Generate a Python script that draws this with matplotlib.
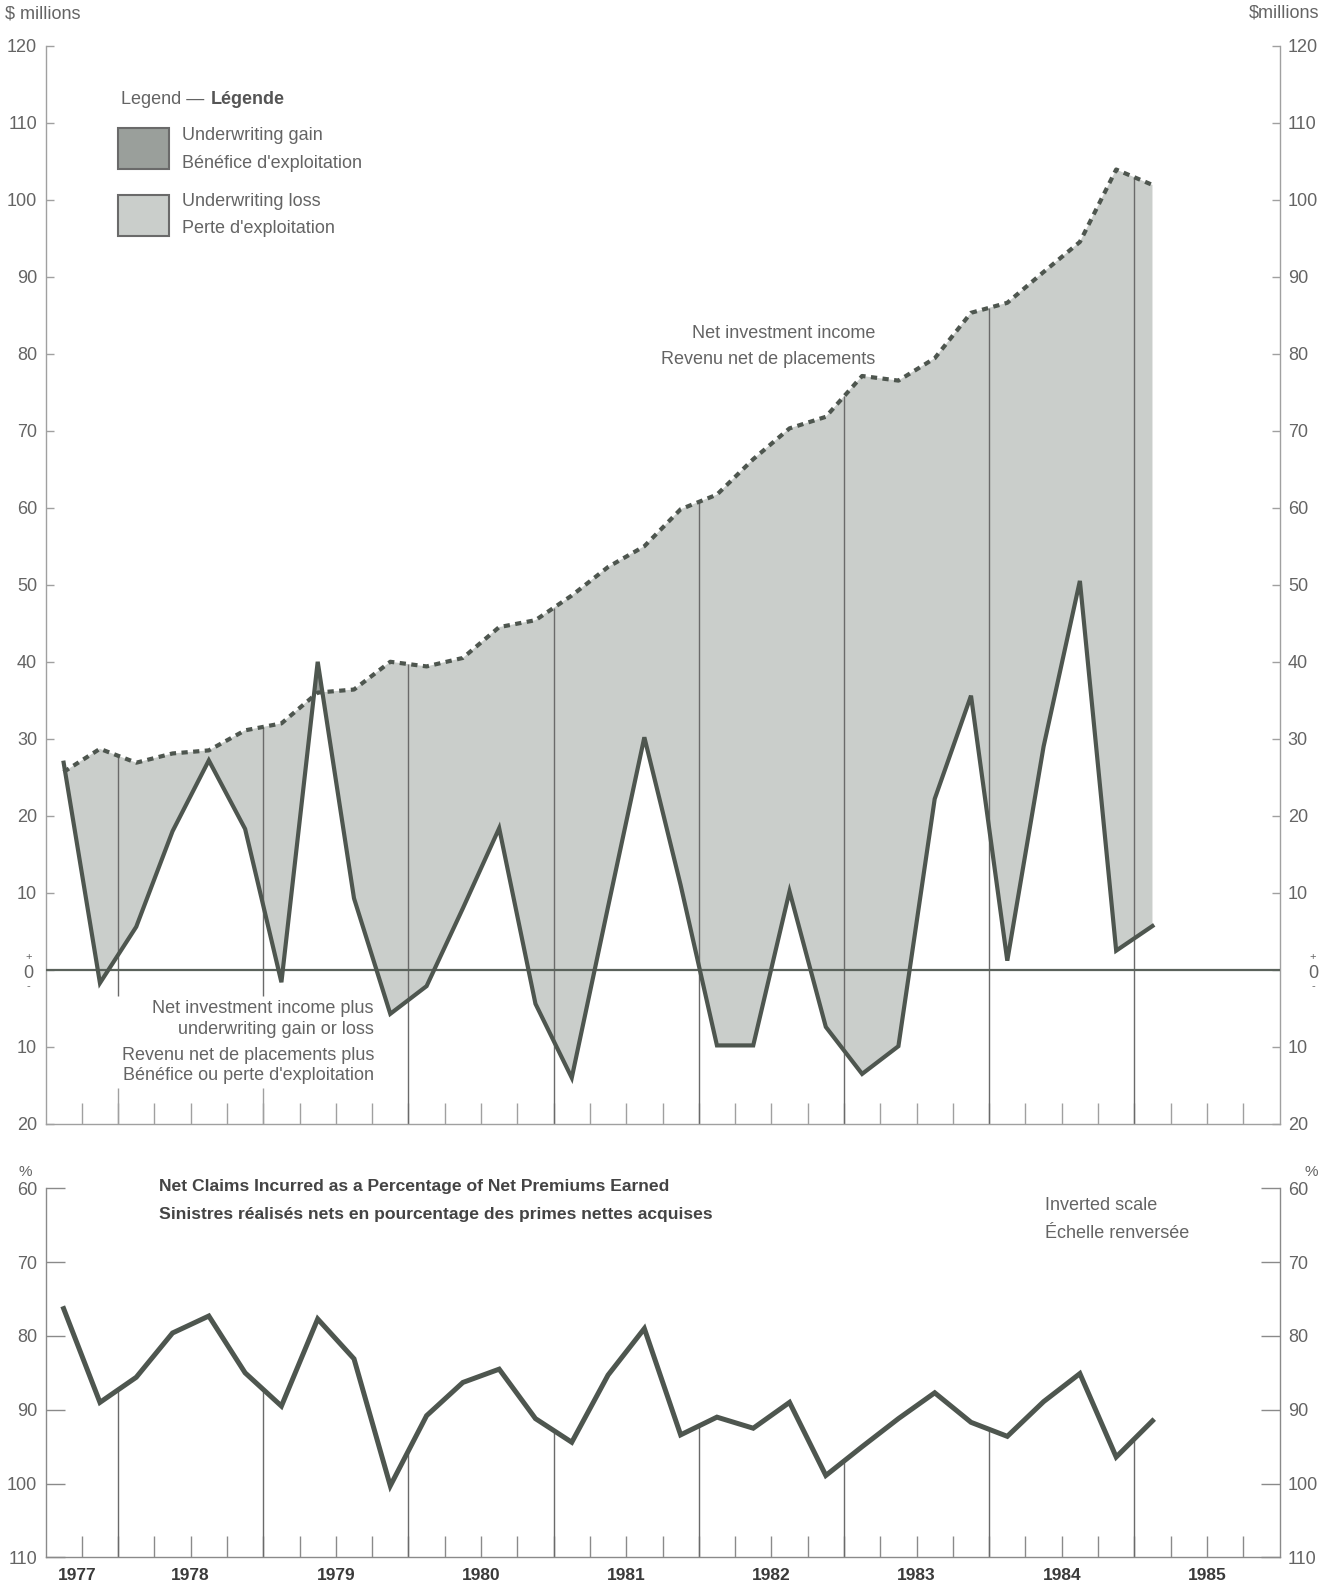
import numpy as np
import matplotlib.pyplot as plt
from matplotlib.patches import Rectangle

plt.rcParams['font.family'] = ['Liberation Sans', 'DejaVu Sans']

# quarterly data, 1977Q3 .. 1985Q1
periods = ['1977Q3', '1977Q4',
           '1978Q1', '1978Q2', '1978Q3', '1978Q4',
           '1979Q1', '1979Q2', '1979Q3', '1979Q4',
           '1980Q1', '1980Q2', '1980Q3', '1980Q4',
           '1981Q1', '1981Q2', '1981Q3', '1981Q4',
           '1982Q1', '1982Q2', '1982Q3', '1982Q4',
           '1983Q1', '1983Q2', '1983Q3', '1983Q4',
           '1984Q1', '1984Q2', '1984Q3', '1984Q4',
           '1985Q1']

# $ millions
net_invest = [25.7, 28.7, 26.9, 28.1, 28.5, 31.1, 32.0, 36.0, 36.4, 40.0,
              39.4, 40.5, 44.5, 45.4, 48.6, 52.3, 55.0, 59.8, 61.7, 66.3,
              70.3, 71.8, 77.1, 76.5, 79.4, 85.3, 86.6, 90.6, 94.5, 103.9,
              101.9]
total_income = [26.9, -1.7, 5.6, 18.0, 27.2, 18.3, -1.6, 40.0, 9.3, -5.7,
                -2.1, 8.0, 18.4, -4.4, -14.0, 8.2, 30.2, 11.0, -9.8, -9.8,
                10.2, -7.4, -13.5, -9.9, 22.2, 35.6, 1.2, 29.0, 50.5, 2.5,
                5.7]

# net claims incurred, % of net premiums earned
claims_pct = [76.3, 89.0, 85.6, 79.6, 77.3, 85.0, 89.5, 77.7, 83.1, 100.3,
              90.8, 86.3, 84.5, 91.2, 94.4, 85.3, 79.0, 93.4, 91.0, 92.5,
              89.0, 98.9, 95.0, 91.2, 87.7, 91.7, 93.6, 88.9, 85.1, 96.4,
              91.5]

year_labels = ['1977', '1978', '1979', '1980', '1981', '1982', '1983', '1984', '1985']
year_bounds = [1978, 1979, 1980, 1981, 1982, 1983, 1984, 1985]

x = np.array([int(p[:4]) + (int(p[-1]) - 1) * 0.25 + 0.125 for p in periods])
nii = np.array(net_invest)
tot = np.array(total_income)
clm = np.array(claims_pct)

LINE = '#4e564f'
FILL = '#cacecb'
GAIN = '#9a9f9b'
AXC = '#a0a0a0'
TXT = '#646464'
FS = 13

W, H = 1335, 1586
fig = plt.figure(figsize=(W / 100, H / 100), dpi=100)


def ftext(px, py, s, **kw):
    kw.setdefault('color', TXT)
    kw.setdefault('fontsize', FS)
    kw.setdefault('va', 'center')
    fig.text(px / W, 1 - py / H, s, **kw)


qticks = np.arange(1977.75, 1986.0, 0.25)

# ---------------- top panel ----------------
ax1 = fig.add_axes([45.5 / W, 1 - 1124 / H, 1234 / W, 1078.5 / H])
ax1.set_xlim(1977.5, 1986.0)
ax1.set_ylim(-20, 120)

ax1.fill_between(x, tot, nii, where=tot <= nii, interpolate=True,
                 color=FILL, lw=0, zorder=1)
ax1.fill_between(x, tot, nii, where=tot > nii, interpolate=True,
                 color=GAIN, lw=0, zorder=1)

for i, yb in enumerate(year_bounds):
    top = np.interp(yb, x, nii)
    if i < 2:
        ax1.vlines(yb, -3.4, top, color='#6a6a6a', lw=1.0, zorder=2)
        ax1.vlines(yb, -20, -15.3, color=AXC, lw=1.0, zorder=2)
    else:
        ax1.vlines(yb, -20, top, color='#6a6a6a', lw=1.0, zorder=2)

ax1.axhline(0, color='#5a625b', lw=1.6, zorder=3)
ax1.plot(x, nii, color=LINE, lw=3, ls=(0, (1.5, 1.3)), zorder=4)
ax1.plot(x, tot, color=LINE, lw=3, zorder=5, solid_joinstyle='miter')

ax1.spines['top'].set_visible(False)
for s in ['left', 'right', 'bottom']:
    ax1.spines[s].set_color(AXC)
    ax1.spines[s].set_linewidth(1.0)

yt = list(range(-20, 121, 10))
ax1.set_yticks(yt)
ax1.set_yticklabels(['' if v == 0 else str(abs(v)) for v in yt])
ax1.tick_params(axis='y', direction='in', length=6, width=1, color=AXC,
                left=True, right=True, labelleft=True, labelright=True,
                labelsize=FS, labelcolor=TXT, pad=6)
ax1.set_xticks(qticks)
ax1.tick_params(axis='x', direction='in', length=15, width=1, color=AXC,
                labelbottom=False)

# zero label with + / - marks
for px in (28.5, 1313):
    ftext(px, 973, '0', ha='center')
    ftext(px, 957, '+', fontsize=8, ha='center')
    ftext(px, 986, '-', fontsize=8, ha='center')

ftext(5, 14, '$ millions', ha='left')
ftext(1319, 13, '$millions', ha='right')

# legend
ftext(121, 99, 'Legend \u2014 ', ha='left')
ftext(211, 99, 'Légende', ha='left', fontweight='bold', color='#555555')
fig.patches.append(Rectangle((118 / W, 1 - 169 / H), 51 / W, 41 / H,
                             transform=fig.transFigure, facecolor=GAIN,
                             edgecolor='#6a6a6a', lw=1.5))
fig.patches.append(Rectangle((118 / W, 1 - 236 / H), 51 / W, 41 / H,
                             transform=fig.transFigure, facecolor=FILL,
                             edgecolor='#6a6a6a', lw=1.5))
ftext(182, 135.5, 'Underwriting gain', ha='left')
ftext(182, 163, "Bénéfice d'exploitation", ha='left')
ftext(182, 201, 'Underwriting loss', ha='left')
ftext(182, 228.5, "Perte d'exploitation", ha='left')

ftext(875, 333, 'Net investment income', ha='right')
ftext(875, 360, 'Revenu net de placements', ha='right')

ftext(374, 1008, 'Net investment income plus', ha='right')
ftext(374, 1029, 'underwriting gain or loss', ha='right')
ftext(374, 1056, 'Revenu net de placements plus', ha='right')
ftext(374, 1076, "Bénéfice ou perte d'exploitation", ha='right')

# ---------------- bottom panel ----------------
ax2 = fig.add_axes([45.5 / W, 1 - 1557.4 / H, 1234 / W, 369.1 / H])
ax2.set_xlim(1977.5, 1986.0)
ax2.set_ylim(110, 60)

for yb in year_bounds:
    v = np.interp(yb, x, clm)
    ax2.vlines(yb, 110, v, color='#6a6a6a', lw=1.0, zorder=2)
ax2.plot(x, clm, color=LINE, lw=3.6, zorder=4, solid_joinstyle='miter')

ax2.spines['top'].set_visible(False)
for s in ['left', 'right', 'bottom']:
    ax2.spines[s].set_color('#8a8a8a')
    ax2.spines[s].set_linewidth(1.0)

ax2.set_yticks(range(60, 111, 10))
ax2.tick_params(axis='y', direction='in', length=14, width=1, color='#8a8a8a',
                left=True, right=True, labelleft=True, labelright=True,
                labelsize=FS, labelcolor=TXT, pad=6)
ax2.set_xticks(qticks)
ax2.tick_params(axis='x', direction='in', length=15, width=1, color='#8a8a8a',
                labelbottom=False)

for i, yl in enumerate(year_labels):
    xp = 1977.72 if i == 0 else int(yl) + 0.5
    ax2.text(xp, -0.048, yl, transform=ax2.get_xaxis_transform(),
             ha='center', va='center', fontsize=12.5, fontweight='bold',
             color='#3a3a3a')

ftext(25, 1172, '%', ha='center', fontsize=11)
ftext(1311, 1172, '%', ha='center', fontsize=11)

ftext(159, 1186, 'Net Claims Incurred as a Percentage of Net Premiums Earned',
      ha='left', fontweight='bold', color='#444444', fontsize=12.6)
ftext(159, 1214, 'Sinistres réalisés nets en pourcentage des primes nettes acquises',
      ha='left', fontweight='bold', color='#444444', fontsize=12.6)
ftext(1045, 1205.5, 'Inverted scale', ha='left')
ftext(1045, 1233, 'Échelle renversée', ha='left')

fig.savefig('out.png', dpi=100, facecolor='white')
